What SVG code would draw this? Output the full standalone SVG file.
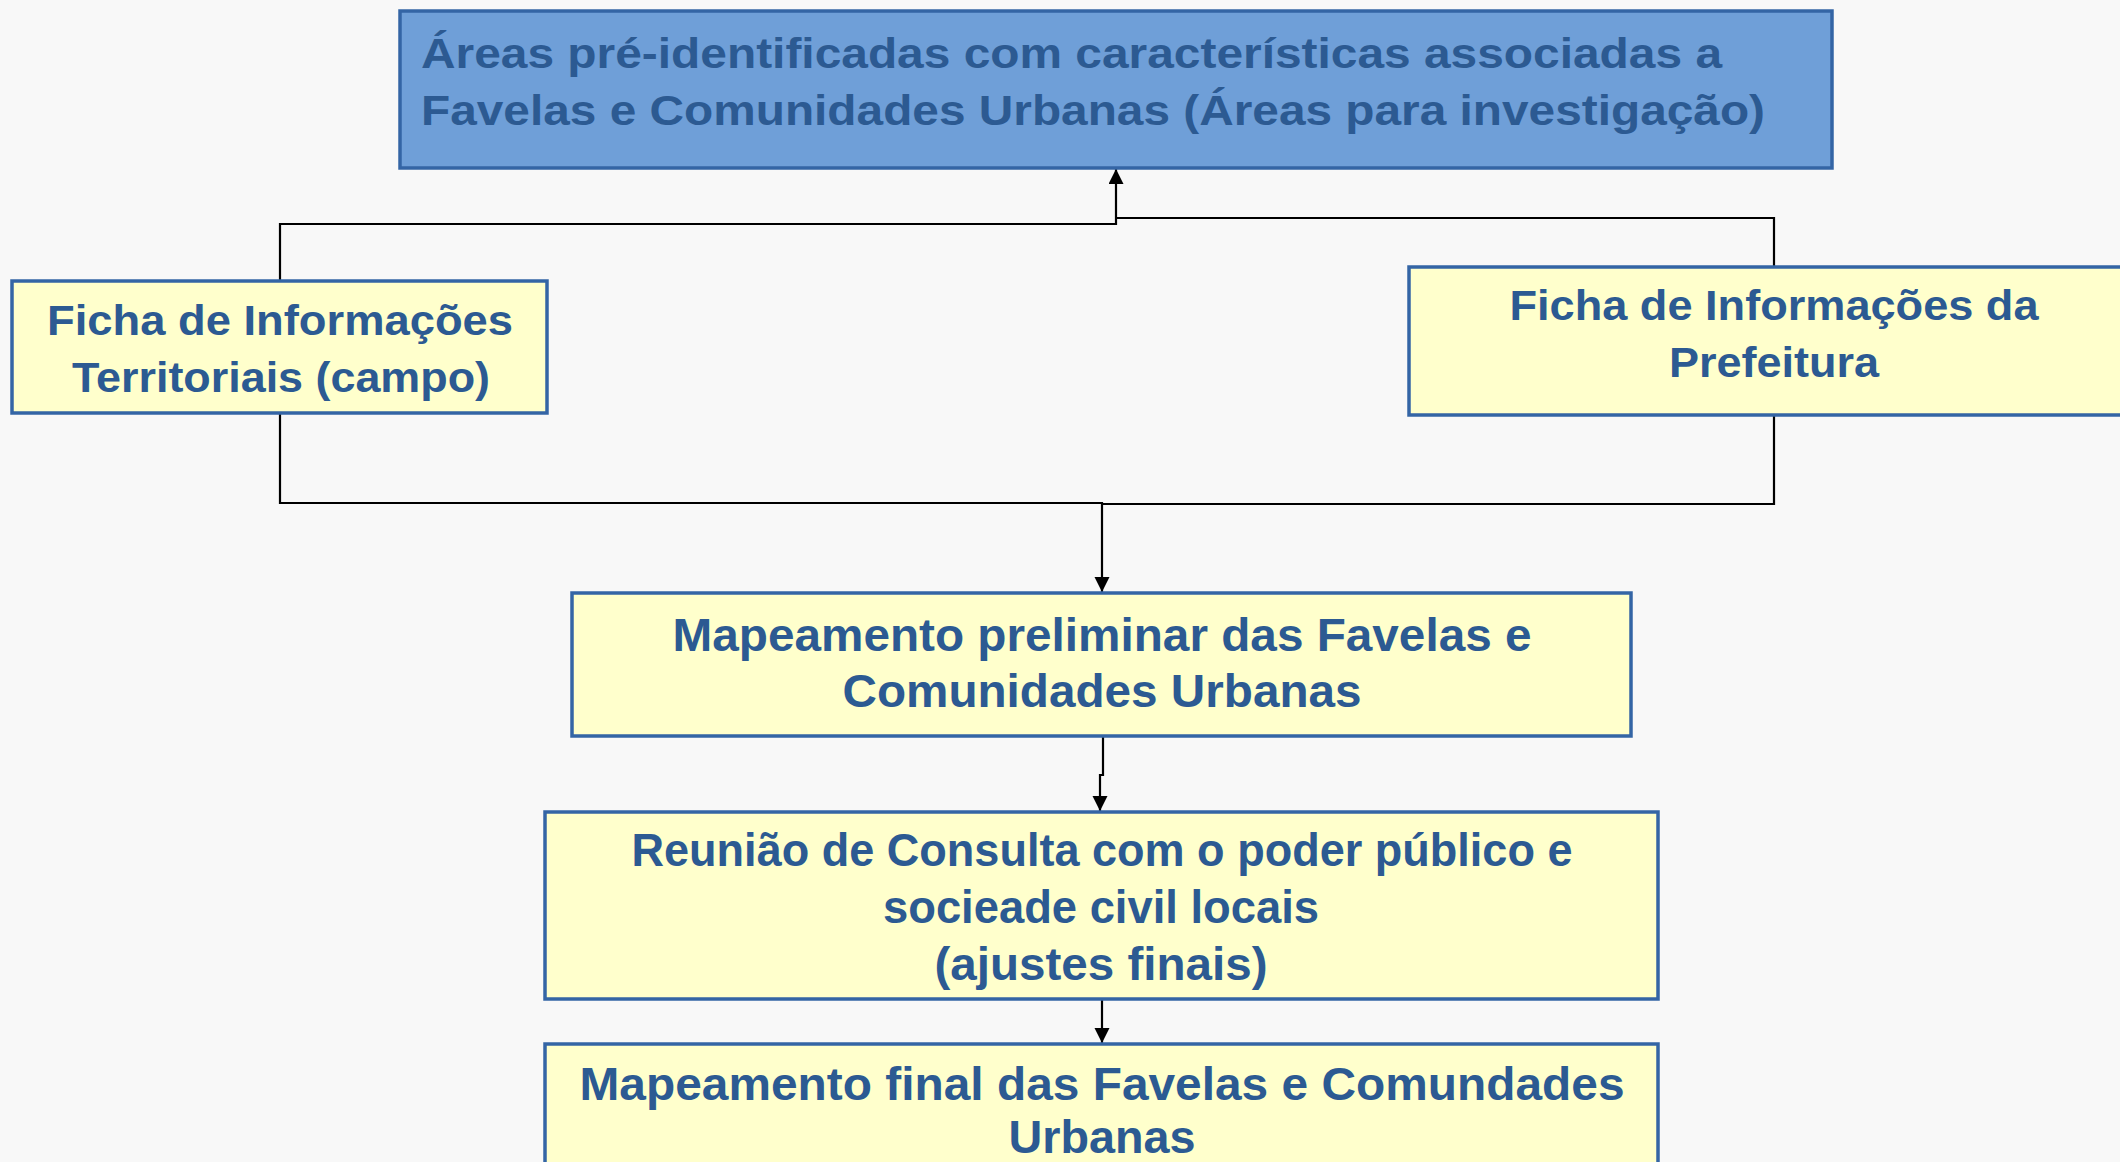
<svg xmlns="http://www.w3.org/2000/svg" width="2120" height="1162" viewBox="0 0 2120 1162">
<defs>
<style>
.bg{fill:#f8f8f8}
.box{fill:#ffffcc;stroke:#3465a5;stroke-width:3.5}
.top{fill:#6f9fd8;stroke:#3465a5;stroke-width:3.5}
.t{fill:#2c5a92;font-family:"Liberation Sans",Arial,sans-serif;font-weight:bold}
.tn{fill:#2c5a92;font-family:"Liberation Sans Narrow","Liberation Sans",Arial,sans-serif;font-weight:bold;font-size:47px;text-anchor:middle}
.tf{fill:#2c5a92;font-family:"Liberation Sans",Arial,sans-serif;font-weight:bold;font-size:42px;text-anchor:middle}
.c{fill:none;stroke:#000;stroke-width:2.2}
</style>
<marker id="ah" markerUnits="userSpaceOnUse" markerWidth="16" markerHeight="16" refX="15" refY="7.5" orient="auto">
<path d="M0,0 L15,7.5 L0,15 Z" fill="#000"/>
</marker>
</defs>
<rect class="bg" x="0" y="0" width="2120" height="1162"/>
<g id="connectors">
<path class="c" d="M280,281 V224 H1116 V169" marker-end="url(#ah)"/>
<path class="c" d="M1774,267 V218 H1116"/>
<path class="c" d="M280,413 V503 H1102 V592" marker-end="url(#ah)"/>
<path class="c" d="M1774,415 V504 H1102"/>
<path class="c" d="M1103,736 V775 H1100 V811" marker-end="url(#ah)"/>
<path class="c" d="M1102,999 V1043" marker-end="url(#ah)"/>
</g>
<g id="n-areas">
<rect class="top" x="400" y="11" width="1432" height="157"/>
<text class="t" font-size="42" x="421" y="68" textLength="1301" lengthAdjust="spacingAndGlyphs">Áreas pré-identificadas com características associadas a</text>
<text class="t" font-size="42" x="421" y="125" textLength="1344" lengthAdjust="spacingAndGlyphs">Favelas e Comunidades Urbanas (Áreas para investigação)</text>
</g>
<g id="n-ficha-territoriais">
<rect class="box" x="12" y="281" width="535" height="132"/>
<text class="tf" x="280" y="335" textLength="466" lengthAdjust="spacingAndGlyphs">Ficha de Informações</text>
<text class="tf" x="281" y="392" textLength="418" lengthAdjust="spacingAndGlyphs">Territoriais (campo)</text>
</g>
<g id="n-ficha-prefeitura">
<rect class="box" x="1409" y="267" width="760" height="148"/>
<text class="tf" x="1774" y="320" textLength="529" lengthAdjust="spacingAndGlyphs">Ficha de Informações da</text>
<text class="tf" x="1774" y="377" textLength="210" lengthAdjust="spacingAndGlyphs">Prefeitura</text>
</g>
<g id="n-preliminar">
<rect class="box" x="572" y="593" width="1059" height="143"/>
<text class="tn" x="1102" y="651" textLength="859" lengthAdjust="spacingAndGlyphs">Mapeamento preliminar das Favelas e</text>
<text class="tn" x="1102" y="707" textLength="519" lengthAdjust="spacingAndGlyphs">Comunidades Urbanas</text>
</g>
<g id="n-reuniao">
<rect class="box" x="545" y="812" width="1113" height="187"/>
<text class="tn" x="1102" y="866" textLength="941" lengthAdjust="spacingAndGlyphs">Reunião de Consulta com o poder público e</text>
<text class="tn" x="1101" y="923" textLength="436" lengthAdjust="spacingAndGlyphs">socieade civil locais</text>
<text class="tn" x="1101" y="980" textLength="333" lengthAdjust="spacingAndGlyphs">(ajustes finais)</text>
</g>
<g id="n-final">
<rect class="box" x="545" y="1044" width="1113" height="140"/>
<text class="tn" x="1102" y="1100" textLength="1045" lengthAdjust="spacingAndGlyphs">Mapeamento final das Favelas e Comundades</text>
<text class="tn" x="1102" y="1153" textLength="187" lengthAdjust="spacingAndGlyphs">Urbanas</text>
</g>
</svg>
